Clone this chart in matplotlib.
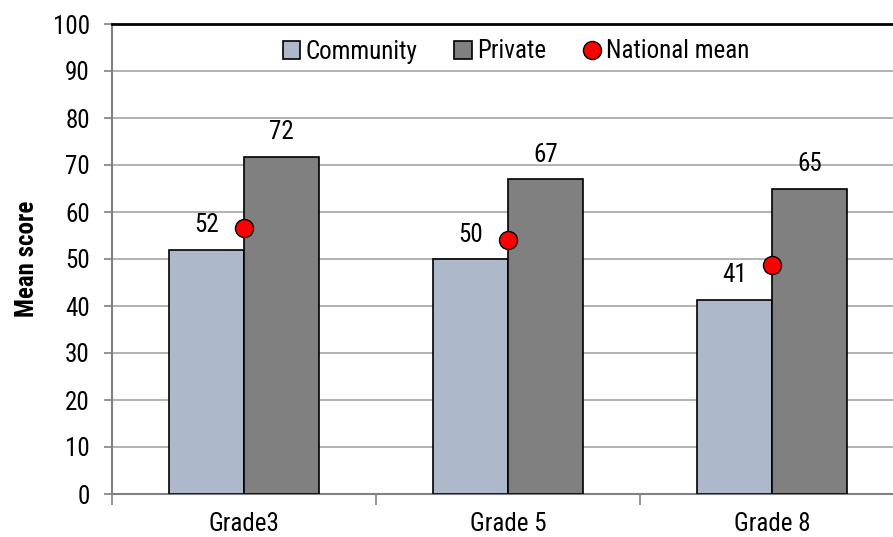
import matplotlib
matplotlib.use("Agg")
import matplotlib.pyplot as plt
import numpy as np
from matplotlib.lines import Line2D
from matplotlib.patches import Patch

plt.rcParams['font.family'] = ['Roboto Condensed', 'Open Sans Condensed', 'Liberation Sans Narrow',
                               'Arial Narrow', 'Roboto', 'DejaVu Sans']
plt.rcParams['font.stretch'] = 'condensed'

grades = ["Grade3", "Grade 5", "Grade 8"]
community = [52, 50, 41.3]
private = [71.8, 67, 65]
community_labels = ["52", "50", "41"]
private_labels = ["72", "67", "65"]
national_mean = [56.6, 54.0, 48.7]

FS = 18

fig = plt.figure(figsize=(8.93, 5.37), dpi=100)
W, H = 893, 537
ax = fig.add_axes([112 / W, (H - 494) / H, (893 - 112) / W, (494 - 24) / H])

x = np.arange(len(grades))
bw = 0.284
c_comm = "#ADB9CA"
c_priv = "#808080"

ax.bar(x - bw / 2, community, bw, color=c_comm, edgecolor="black", linewidth=1.2, zorder=3)
ax.bar(x + bw / 2, private, bw, color=c_priv, edgecolor="black", linewidth=1.2, zorder=3)
ax.plot(x, national_mean, linestyle="none", marker="o", markersize=13,
        markerfacecolor="#FF0000", markeredgecolor="black", markeredgewidth=1, zorder=5)

for xi, v, lab in zip(x, community, community_labels):
    ax.annotate(lab, (xi - bw / 2, v), xytext=(0, 9), textcoords="offset points",
                ha="center", va="bottom", fontsize=FS)
for xi, v, lab in zip(x, private, private_labels):
    ax.annotate(lab, (xi + bw / 2, v), xytext=(0, 9), textcoords="offset points",
                ha="center", va="bottom", fontsize=FS)

ax.set_ylim(0, 100)
ax.set_xlim(-0.5, -0.5 + (893 - 112) / 264)
ax.set_yticks(np.arange(0, 101, 10))
ax.tick_params(axis="y", labelsize=FS, length=6, color="#808080", width=1.2, pad=10)
ax.set_xticks(x)
ax.set_xticklabels(grades)
ax.tick_params(axis="x", which="major", length=0, labelsize=FS, pad=13)
ax.set_xticks([-0.5, 0.5, 1.5], minor=True)
ax.tick_params(axis="x", which="minor", length=8, color="#808080", width=1.2)

ax.yaxis.grid(True, color="#A6A6A6", linewidth=1.2, zorder=0)
ax.set_axisbelow(True)
for s in ["left", "bottom"]:
    ax.spines[s].set_color("#808080")
    ax.spines[s].set_linewidth(1.5)
ax.spines["top"].set_color("black")
ax.spines["top"].set_linewidth(2)
ax.spines["right"].set_visible(False)

ax.set_ylabel("Mean score", fontsize=FS, fontweight="bold", labelpad=10)

handles = [
    Patch(facecolor=c_comm, edgecolor="black", linewidth=1.2, label="Community"),
    Patch(facecolor=c_priv, edgecolor="black", linewidth=1.2, label="Private"),
    Line2D([], [], linestyle="none", marker="o", markersize=13, markerfacecolor="#FF0000",
           markeredgecolor="black", label="National mean"),
]
ax.legend(handles=handles, loc="upper center", bbox_to_anchor=(516 / W, 1 - 17 / H),
          bbox_transform=fig.transFigure, ncol=3, frameon=False, fontsize=FS,
          handlelength=0.7, handleheight=0.7, handletextpad=0.2, columnspacing=1.5)

fig.savefig("out.png", dpi=100)
